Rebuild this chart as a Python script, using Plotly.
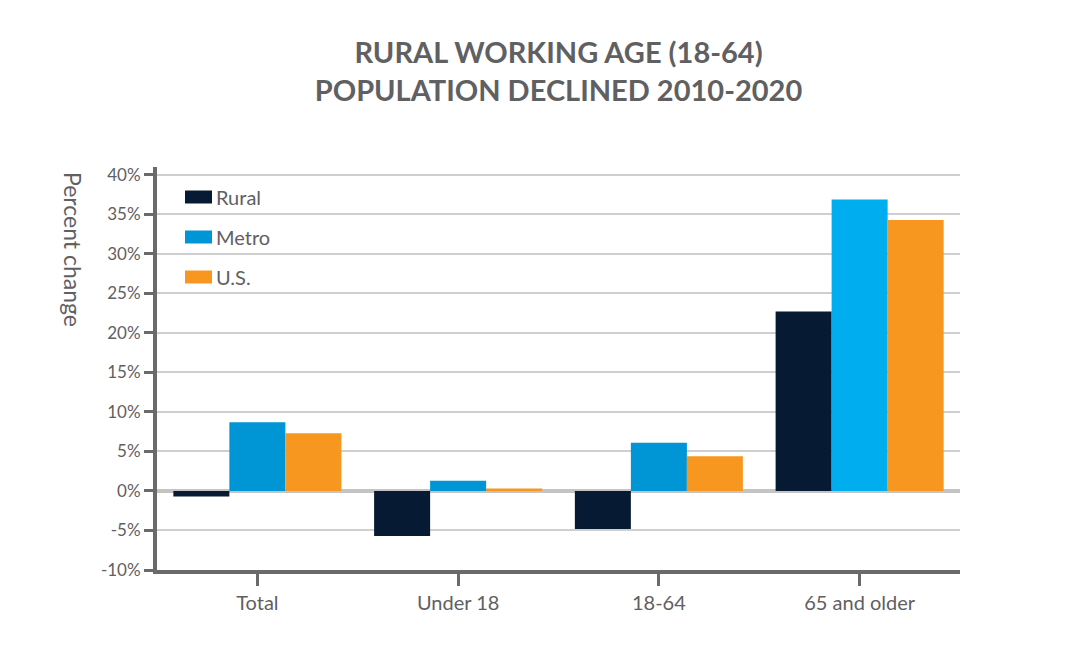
import plotly.graph_objects as go

categories = ["Total", "Under 18", "18-64", "65 and older"]
rural = [-0.7, -5.7, -4.8, 22.7]
metro = [8.7, 1.3, 6.1, 36.9]
us = [7.3, 0.3, 4.4, 34.3]

series_names = ["Rural", "Metro", "U.S."]
rural_colors = ["#061b33"] * 4
metro_colors = ["#0095d5", "#0095d5", "#0095d5", "#00aeef"]
us_colors = ["#f7971f"] * 4

y_ticks = [-10, -5, 0, 5, 10, 15, 20, 25, 30, 35, 40]
y_tick_text = [f"{v}%" for v in y_ticks]

GRAY = "#5f6062"
AXIS = "#6a6a6a"
FONT = "Lato"

# page body has an 8px margin; figure coordinates are offset accordingly
OFF = 8
W, H = 1080 - OFF, 660 - OFF
plot_l, plot_t, plot_r, plot_b = 157 - OFF, 167 - OFF, 960 - OFF, 570 - OFF
plot_w, plot_h = plot_r - plot_l, plot_b - plot_t


def px(xp):
    return (xp - OFF - plot_l) / plot_w


def py(yp):
    return 1 - (yp - OFF - plot_t) / plot_h


fig = go.Figure()
for name, vals, cols in [(series_names[0], rural, rural_colors),
                         (series_names[1], metro, metro_colors),
                         (series_names[2], us, us_colors)]:
    fig.add_trace(go.Bar(name=name, x=categories, y=vals,
                         marker=dict(color=cols, line=dict(width=0)),
                         showlegend=False))

fig.update_layout(
    width=W, height=H,
    paper_bgcolor="white", plot_bgcolor="white",
    margin=dict(l=plot_l, r=W - plot_r, t=plot_t, b=H - plot_b),
    barmode="group", bargap=0.163, bargroupgap=0,
    font=dict(family=FONT, color=GRAY, size=16),
    title=dict(
        text="RURAL WORKING AGE (18-64)<br>POPULATION DECLINED 2010-2020",
        x=0.5, xref="paper", xanchor="center",
        y=1 - (63 - OFF) / H, yanchor="middle",
        font=dict(family=FONT, size=29, color=GRAY, weight="bold"),
    ),
)

fig.update_xaxes(
    showline=True, linecolor=AXIS, linewidth=4,
    ticks="outside", ticklen=12, tickwidth=2.5, tickcolor=AXIS,
    tickfont=dict(size=20, color=GRAY, family=FONT),
    showgrid=False, zeroline=False,
)
fig.update_yaxes(
    range=[-10, 41],
    tickvals=y_ticks, ticktext=y_tick_text,
    showline=True, linecolor=AXIS, linewidth=4,
    ticks="outside", ticklen=9, tickwidth=2.5, tickcolor=AXIS,
    tickfont=dict(size=17, color=GRAY, family=FONT),
    showgrid=True, gridcolor="#cfcfcf", gridwidth=1.5,
    zeroline=True, zerolinecolor="#c4c4c4", zerolinewidth=4,
)

# Y-axis title, reading top-to-bottom
fig.add_annotation(
    text="Percent change", xref="paper", yref="paper",
    x=px(73), y=py(249), xanchor="center", yanchor="middle",
    textangle=90, showarrow=False,
    font=dict(size=23, color=GRAY, family=FONT),
)

# Legend keys drawn manually
legend_colors = ["#061b33", "#0095d5", "#f7971f"]
for i, (nm, col) in enumerate(zip(series_names, legend_colors)):
    cy = 197 + i * 40
    fig.add_shape(
        type="rect", xref="paper", yref="paper",
        x0=px(185), x1=px(212),
        y0=py(cy + 6.5), y1=py(cy - 6.5),
        fillcolor=col, line=dict(width=0),
    )
    fig.add_annotation(
        text=nm, xref="paper", yref="paper",
        x=px(214), y=py(cy),
        xanchor="left", yanchor="middle", showarrow=False,
        font=dict(size=20, color=GRAY, family=FONT),
    )

fig.write_html("out.html")
